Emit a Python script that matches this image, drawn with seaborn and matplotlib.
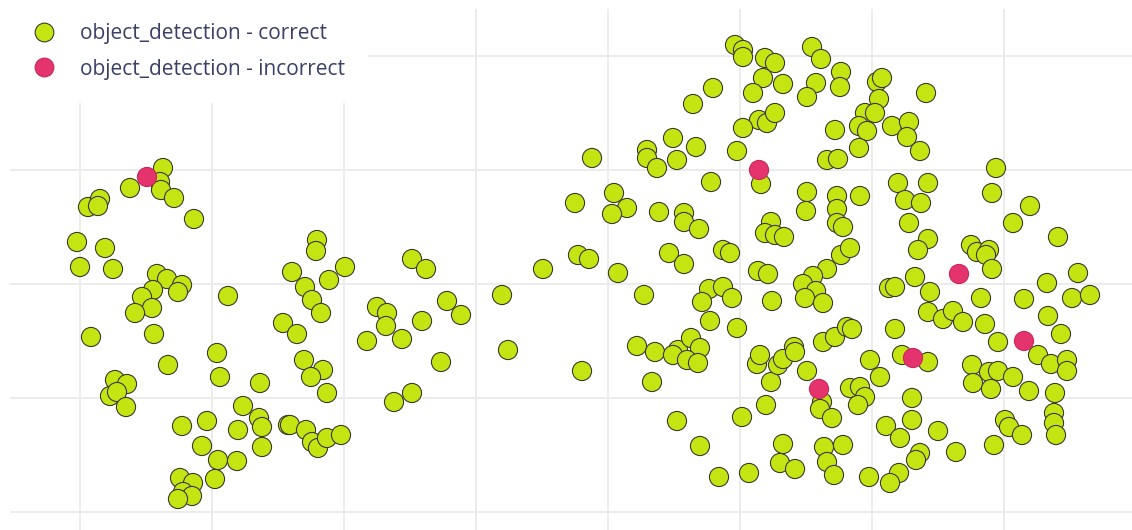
import matplotlib
matplotlib.use('Agg')
import pandas as pd
import matplotlib.pyplot as plt
import seaborn as sns
from matplotlib.lines import Line2D
from matplotlib.ticker import MultipleLocator

# embedding coordinates (arbitrary units, y grows downward)
correct_pts = [
    (163, 168), (160, 182), (161, 190), (130, 188), (174, 198), (194, 219), (88, 207), (100, 199),
    (98, 206), (77, 242), (105, 248), (80, 267), (113, 269), (157, 274), (167, 279), (182, 285),
    (178, 292), (153, 290), (142, 297), (152, 308), (135, 313), (228, 296), (91, 337), (154, 334),
    (217, 353), (168, 365), (220, 377), (260, 383), (115, 380), (127, 384), (110, 396), (117, 392),
    (126, 407), (243, 406), (207, 421), (182, 426), (238, 430), (259, 418), (262, 427), (288, 425),
    (202, 446), (262, 447), (218, 460), (237, 461), (215, 479), (180, 478), (193, 483), (183, 492),
    (192, 496), (178, 499),
    (317, 240), (316, 251), (292, 272), (345, 267), (329, 280), (305, 287), (312, 300), (321, 313),
    (283, 323), (297, 334), (412, 259), (426, 269), (377, 307), (387, 313), (386, 326), (367, 341),
    (402, 339), (422, 321), (447, 301), (461, 315), (502, 295), (543, 269), (508, 350),
    (304, 360), (323, 370), (311, 377), (327, 393), (441, 362), (394, 402), (412, 393), (290, 425),
    (306, 430), (312, 442), (318, 448), (327, 438), (341, 435),
    (735, 45), (743, 50), (743, 57), (765, 58), (775, 63), (812, 47), (821, 59), (841, 72),
    (840, 87), (763, 78), (783, 84), (753, 93), (816, 83), (807, 97), (713, 88), (693, 104),
    (759, 120), (767, 123), (775, 113), (743, 128), (737, 151), (592, 158), (647, 150), (647, 158),
    (673, 138), (657, 168), (677, 160), (696, 147), (835, 130), (827, 160), (838, 159),
    (877, 82), (882, 78), (879, 99), (926, 93), (865, 113), (875, 113), (859, 126), (867, 131),
    (892, 126), (909, 122), (907, 137), (859, 148), (920, 151), (996, 168),
    (898, 183), (928, 183), (905, 200), (921, 203), (992, 193), (1030, 206), (1013, 223), (1058, 237),
    (909, 223), (928, 239), (918, 250), (860, 196), (971, 245), (977, 252), (989, 250), (986, 255),
    (992, 269), (915, 277), (889, 288), (895, 287), (930, 292), (1078, 273), (1047, 283), (1024, 299),
    (1072, 298), (1090, 295), (981, 298), (928, 312), (943, 319), (953, 311), (963, 322), (985, 324),
    (1048, 316), (1061, 334), (895, 329), (998, 342),
    (711, 182), (761, 184), (807, 192), (837, 196), (806, 211), (837, 209), (837, 223), (843, 227),
    (575, 203), (614, 193), (627, 208), (612, 214), (659, 212), (684, 213), (684, 222), (699, 229),
    (771, 222), (765, 233), (775, 235), (784, 237), (578, 255), (589, 259), (669, 253), (684, 264),
    (723, 250), (730, 253), (841, 255), (850, 248), (618, 273), (758, 271), (768, 274), (827, 269),
    (813, 276), (803, 284), (816, 291), (805, 298), (823, 303), (644, 295), (709, 289), (723, 287),
    (702, 302), (732, 298), (772, 301), (710, 321), (737, 328), (637, 346), (655, 352), (678, 350),
    (691, 338), (700, 348), (794, 347), (823, 342), (835, 337), (847, 327), (852, 329),
    (582, 371), (673, 355), (687, 360), (698, 363), (652, 382), (677, 421), (700, 446), (719, 477),
    (749, 473), (742, 417), (757, 364), (760, 355), (771, 382), (778, 365), (783, 359), (795, 352),
    (807, 371), (822, 402), (820, 409), (832, 418), (766, 405), (783, 444), (780, 463), (795, 469),
    (824, 447), (827, 462), (834, 475), (843, 445), (850, 388),
    (870, 360), (902, 355), (928, 362), (880, 377), (860, 387), (865, 397), (858, 405), (912, 398),
    (912, 420), (886, 426), (900, 438), (938, 431), (920, 453), (916, 460), (956, 452), (869, 477),
    (899, 473), (890, 483), (972, 365), (973, 383), (989, 372), (998, 371), (991, 389), (1013, 377),
    (1029, 391), (1038, 355), (1051, 364), (1067, 360), (1067, 371), (1055, 393), (1054, 413), (1054, 423),
    (1056, 435), (1005, 420), (1009, 427), (1022, 435), (994, 445),
]
incorrect_pts = [(147, 177), (759, 170), (959, 274), (1024, 341), (913, 358), (819, 389)]

labels = ['object_detection - correct', 'object_detection - incorrect']
fill_colors = ['#c5e512', '#e5336d']
edge_colors = ['#3b3b2b', '#c9285a']

rows = [(x, y, labels[0]) for x, y in correct_pts] + [(x, y, labels[1]) for x, y in incorrect_pts]
df = pd.DataFrame(rows, columns=['x', 'y', 'grupo'])
edges = [edge_colors[labels.index(g)] for g in df['grupo']]

sns.set_style('white')
plt.rcParams['font.family'] = ['Open Sans', 'DejaVu Sans']

fig = plt.figure(figsize=(11.32, 5.30), dpi=100)
ax = fig.add_axes([10 / 1132, 0, 1122 / 1132, 521 / 530])

sns.scatterplot(data=df, x='x', y='y', hue='grupo', hue_order=labels,
                palette=dict(zip(labels, fill_colors)), s=190, edgecolor=edges,
                linewidth=0.8, alpha=1, legend=False, ax=ax, zorder=3)

ax.set_xlim(10, 1132)
ax.set_ylim(530, 9)
ax.xaxis.set_major_locator(MultipleLocator(132, offset=80))
ax.yaxis.set_major_locator(MultipleLocator(114, offset=56))
ax.grid(True, color='#ebebeb', linewidth=1.3)
ax.set_axisbelow(True)
ax.tick_params(length=0, labelbottom=False, labelleft=False)
ax.set_xlabel('')
ax.set_ylabel('')
sns.despine(ax=ax, left=True, bottom=True)

handles = [Line2D([], [], linestyle='none', marker='o', markersize=13.5,
                  markerfacecolor=fc, markeredgecolor=ec, markeredgewidth=0.8)
           for fc, ec in zip(fill_colors, edge_colors)]
leg = ax.legend(handles, labels, loc='upper left', bbox_to_anchor=(0, 1),
                bbox_transform=fig.transFigure, borderaxespad=0, borderpad=1.12,
                handlelength=2.0, handletextpad=0.72, labelspacing=0.68,
                fontsize=15, frameon=True, facecolor='white', edgecolor='none',
                fancybox=False, framealpha=1)
for t in leg.get_texts():
    t.set_color('#3a4068')
leg.set_zorder(5)

plt.savefig('out.png', dpi=100)
